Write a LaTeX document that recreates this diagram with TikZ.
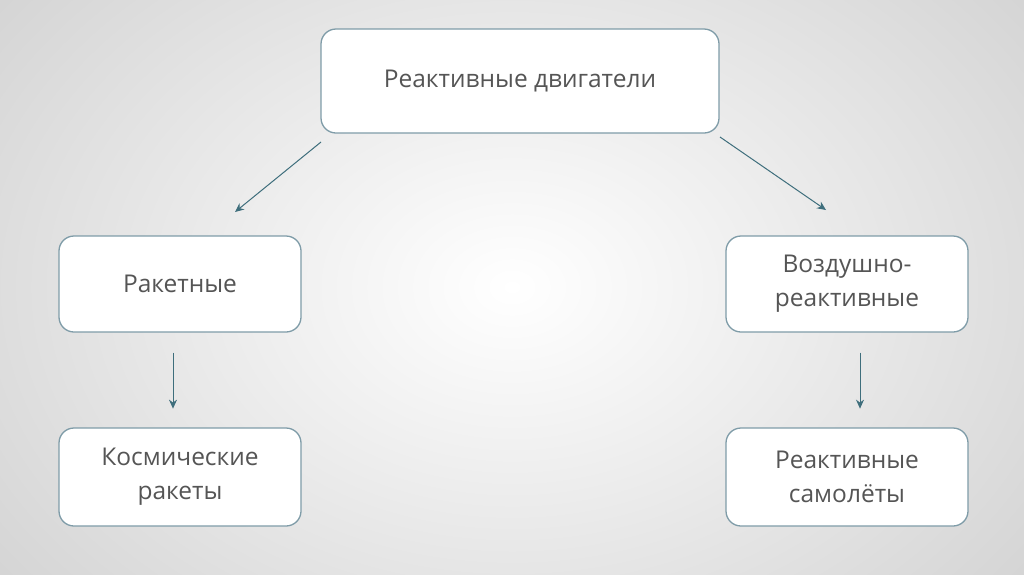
\documentclass[tikz,border=0pt]{standalone}
\usepackage{fontspec}
\setmainfont{Open Sans}
\usetikzlibrary{arrows.meta}
\definecolor{boxline}{HTML}{7F9CA8}
\definecolor{arrowc}{HTML}{3E6E7C}
\definecolor{txt}{HTML}{555555}
\tikzset{
  box/.style={draw=boxline, line width=1.3pt, fill=white, rounded corners=15pt,
    text=txt, font=\fontsize{24.5}{34}\selectfont, align=center, inner sep=0pt},
  conn/.style={draw=arrowc, line width=1pt, -{Stealth[length=9pt,width=8pt]}}
}
\begin{document}
\begin{tikzpicture}[x=1pt,y=-1pt]
\useasboundingbox (0,0) rectangle (1024,574);
\shade[inner color=white, outer color=black!17] (-150,-200) rectangle (1174,774);
\node[box, minimum width=398pt, minimum height=104pt] (top) at (520,81) {Реактивные двигатели};
\node[box, minimum width=242pt, minimum height=96pt] (rak) at (180,284) {Ракетные};
\node[box, minimum width=242pt, minimum height=96pt] (vozd) at (847,284) {Воздушно-\\реактивные};
\node[box, minimum width=242pt, minimum height=98pt] (kosm) at (180,477) {Космические\\ракеты};
\node[box, minimum width=242pt, minimum height=98pt] (sam) at (847,477) {Реактивные\\самолёты};
\coordinate (a1) at (321,142);
\coordinate (a2) at (235,212);
\coordinate (b1) at (720,137);
\coordinate (b2) at (826,210);
\path[conn] (a1) -- (a2);
\path[conn] (b1) -- (b2);
\path[conn] (rak.south -| 173,0) ++(0,20) -- ++(0,56);
\path[conn] (vozd.south -| 860,0) ++(0,20) -- ++(0,56);
\end{tikzpicture}
\end{document}
